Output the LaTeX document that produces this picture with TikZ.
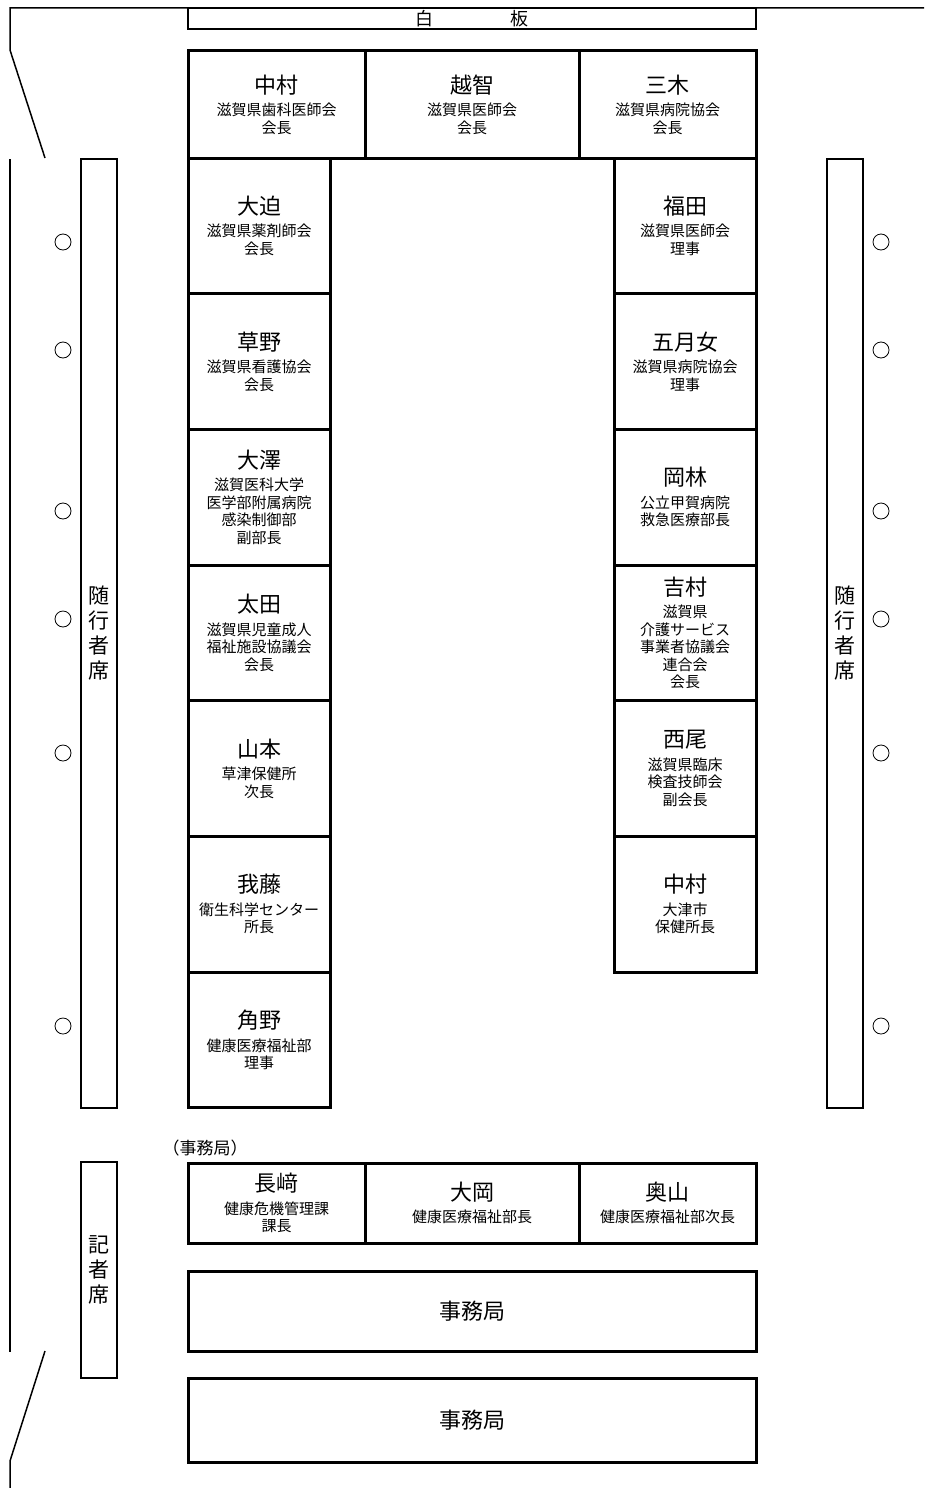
\documentclass[tikz,border=0pt]{standalone}
\usepackage{fontspec}
\setmainfont{Noto Sans CJK JP}
\newcommand\nmfont{\fontsize{22}{24}\selectfont}
\newcommand\sbfont{\fontsize{15}{17.5}\selectfont}
\tikzset{
  seat/.style={draw, line width=3pt, inner sep=0pt, outer sep=0pt, align=center, font=\sbfont},
  wall/.style={line width=1.5pt},
  bench/.style={draw, line width=1.5pt, inner sep=0pt, outer sep=0pt, align=center, font=\fontsize{21}{25}\selectfont},
  dot/.style={circle, draw, line width=0.8pt, minimum size=16pt, inner sep=0pt},
  lcol/.style={seat, minimum width=142pt, minimum height=135.7pt},
  top/.style={seat, minimum height=107pt},
  bot/.style={seat, minimum height=80pt},
}
\begin{document}
\begin{tikzpicture}[x=1pt,y=-1pt]
\useasboundingbox (0,0) rectangle (924,1488);
% walls
\draw[wall] (924,8) -- (10,8) -- (10,50) -- (45,158);
\draw[wall] (10,159) -- (10,1352);
\draw[wall] (45,1351) -- (10,1461) -- (10,1488);
% whiteboard
\node[bench, minimum width=568pt, minimum height=21pt, font=\fontsize{18}{20}\selectfont] (wb) at (472,18.5) {白\hspace{77pt}板};
% top row
\node[top, minimum width=177pt] (t1) at (276.5,104.5) {{\nmfont 中村}\\[5pt]滋賀県歯科医師会\\会長};
\node[top, minimum width=214pt] (t2) at (472,104.5) {{\nmfont 越智}\\[5pt]滋賀県医師会\\会長};
\node[top, minimum width=177pt] (t3) at (667.5,104.5) {{\nmfont 三木}\\[5pt]滋賀県病院協会\\会長};
% left column
\node[lcol] (l1) at (259,225.85) {{\nmfont 大迫}\\[5pt]滋賀県薬剤師会\\会長};
\node[lcol] (l2) at (259,361.55) {{\nmfont 草野}\\[5pt]滋賀県看護協会\\会長};
\node[lcol] (l3) at (259,497.25) {{\nmfont 大澤}\\[5pt]滋賀医科大学\\医学部附属病院\\感染制御部\\副部長};
\node[lcol] (l4) at (259,632.95) {{\nmfont 太田}\\[5pt]滋賀県児童成人\\福祉施設協議会\\会長};
\node[lcol] (l5) at (259,768.65) {{\nmfont 山本}\\[5pt]草津保健所\\次長};
\node[lcol] (l6) at (259,904.35) {{\nmfont 我藤}\\[5pt]衛生科学センター\\所長};
\node[lcol] (l7) at (259,1040.05) {{\nmfont 角野}\\[5pt]健康医療福祉部\\理事};
% right column
\node[lcol] (r1) at (685,225.85) {{\nmfont 福田}\\[5pt]滋賀県医師会\\理事};
\node[lcol] (r2) at (685,361.55) {{\nmfont 五月女}\\[5pt]滋賀県病院協会\\理事};
\node[lcol] (r3) at (685,497.25) {{\nmfont 岡林}\\[5pt]公立甲賀病院\\救急医療部長};
\node[lcol] (r4) at (685,632.95) {{\nmfont 吉村}\\[5pt]滋賀県\\介護サービス\\事業者協議会\\連合会\\会長};
\node[lcol] (r5) at (685,768.65) {{\nmfont 西尾}\\[5pt]滋賀県臨床\\検査技師会\\副会長};
\node[lcol] (r6) at (685,904.35) {{\nmfont 中村}\\[5pt]大津市\\保健所長};
% benches
\node[bench, minimum width=36pt, minimum height=949pt] (bl) at (99,633.5) {随\\行\\者\\席};
\node[bench, minimum width=36pt, minimum height=949pt] (br) at (845,633.5) {随\\行\\者\\席};
\node[bench, minimum width=36pt, minimum height=216pt] (press) at (99,1270) {記\\者\\席};
% chairs
\foreach \y [count=\k] in {242,350,511,619,753,1026} {
  \node[dot] (cl\k) at (63,\y) {};
  \node[dot] (cr\k) at (881,\y) {};
}
% secretariat
\node[font=\fontsize{17}{19}\selectfont, inner sep=0pt] (jlab) at (205,1148) {（事務局）};
\node[bot, minimum width=177pt] (b1) at (276.5,1203) {{\nmfont 長﨑}\\[5pt]健康危機管理課\\課長};
\node[bot, minimum width=214pt] (b2) at (472,1203) {{\nmfont 大岡}\\[5pt]健康医療福祉部長};
\node[bot, minimum width=177pt] (b3) at (667.5,1203) {{\nmfont 奥山}\\[5pt]健康医療福祉部次長};
\node[seat, minimum width=568pt, minimum height=80pt, font=\nmfont] (j1) at (472,1311) {事務局};
\node[seat, minimum width=568pt, minimum height=84pt, font=\nmfont] (j2) at (472,1420) {事務局};
\end{tikzpicture}
\end{document}
